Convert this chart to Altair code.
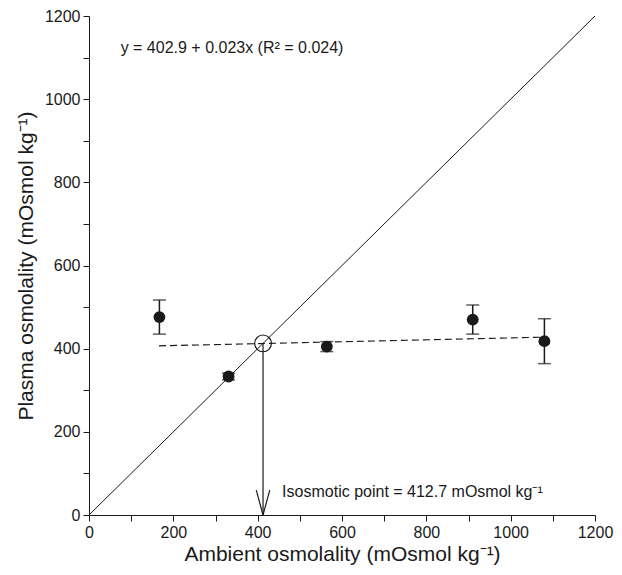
import altair as alt
import pandas as pd

# Data
amb = [167, 331, 564, 910, 1080]
plasma = [476, 333, 405, 470, 418]
err = [41, 8, 12, 35, 54]

reg_x = [166, 1080]
reg_y = [406.7, 427.7]

iso = 412.7
ident = [0, 1200]

eq_text = "y = 402.9 + 0.023x (R² = 0.024)"
iso_text = "Isosmotic point = 412.7 mOsmol kg⁻¹"

FONT = "Liberation Sans"
INK = "#1a1a1a"

pts = pd.DataFrame({"x": amb, "y": plasma, "lo": [p - e for p, e in zip(plasma, err)],
                    "hi": [p + e for p, e in zip(plasma, err)]})

xs = alt.Scale(domain=[0, 1200], nice=False, zero=False)
ys = alt.Scale(domain=[0, 1200], nice=False, zero=False)

ticks = list(range(0, 1201, 100))
lab = "datum.value % 200 == 0 ? datum.label : ''"

xax = alt.Axis(values=ticks, labelExpr=lab, format="d", grid=False, tickSize=6, domainColor=INK,
               tickColor=INK, labelFont=FONT, labelFontSize=16, labelColor=INK, labelPadding=3,
               title="Ambient osmolality (mOsmol kg⁻¹)", titleFont=FONT, titleFontSize=21,
               titleFontWeight="normal", titleColor=INK, titlePadding=3, labelFlush=False)
yax = alt.Axis(values=ticks, labelExpr=lab, format="d", grid=False, tickSize=6, domainColor=INK,
               tickColor=INK, labelFont=FONT, labelFontSize=16, labelColor=INK, labelPadding=3,
               title="Plasma osmolality (mOsmol kg⁻¹)", titleFont=FONT, titleFontSize=21,
               titleFontWeight="normal", titleColor=INK, titlePadding=8, labelFlush=False)

idf = pd.DataFrame({"x": ident, "y": ident})
identity = alt.Chart(idf).mark_line(color=INK, strokeWidth=1).encode(
    x=alt.X("x:Q", scale=xs, axis=xax), y=alt.Y("y:Q", scale=ys, axis=yax))

rdf = pd.DataFrame({"x": reg_x, "y": reg_y})
reg = alt.Chart(rdf).mark_line(color=INK, strokeWidth=1.2, strokeDash=[7, 4]).encode(
    x=alt.X("x:Q", scale=xs), y=alt.Y("y:Q", scale=ys))

bars = alt.Chart(pts).mark_rule(color=INK, strokeWidth=1.5).encode(
    x=alt.X("x:Q", scale=xs), y=alt.Y("lo:Q", scale=ys), y2="hi:Q")
cap_lo = alt.Chart(pts).mark_tick(color=INK, orient="horizontal", size=13, thickness=1.5).encode(
    x=alt.X("x:Q", scale=xs), y=alt.Y("lo:Q", scale=ys))
cap_hi = alt.Chart(pts).mark_tick(color=INK, orient="horizontal", size=13, thickness=1.5).encode(
    x=alt.X("x:Q", scale=xs), y=alt.Y("hi:Q", scale=ys))
dots = alt.Chart(pts).mark_point(filled=True, color=INK, size=140, opacity=1).encode(
    x=alt.X("x:Q", scale=xs), y=alt.Y("y:Q", scale=ys))

adf = pd.DataFrame({"x": [iso], "y": [iso], "y0": [0]})
drop = alt.Chart(adf).mark_rule(color=INK, strokeWidth=1.2).encode(
    x=alt.X("x:Q", scale=xs), y=alt.Y("y:Q", scale=ys), y2="y0:Q")
open_c = alt.Chart(adf).mark_point(shape="circle", filled=False, color=INK, size=280,
                                   strokeWidth=1.2, opacity=1).encode(
    x=alt.X("x:Q", scale=xs), y=alt.Y("y:Q", scale=ys))

hdf = pd.DataFrame({"x": [iso - 16, iso + 16], "y": [60, 60], "x2": [iso, iso], "y2": [0, 0]})
head = alt.Chart(hdf).mark_rule(color=INK, strokeWidth=1.2).encode(
    x=alt.X("x:Q", scale=xs), y=alt.Y("y:Q", scale=ys), x2="x2:Q", y2="y2:Q")

tdf = pd.DataFrame({"x": [75, 458], "y": [1123, 55], "t": [eq_text, iso_text]})
texts = alt.Chart(tdf).mark_text(align="left", baseline="middle", font=FONT, fontSize=16,
                                 color=INK).encode(
    x=alt.X("x:Q", scale=xs), y=alt.Y("y:Q", scale=ys), text="t:N")

chart = alt.layer(identity, reg, drop, head, bars, cap_lo, cap_hi, dots, open_c, texts).properties(
    width=506, height=499,
    autosize=alt.AutoSizeParams(type="none"),
    padding={"left": 81, "top": 8, "right": 19, "bottom": 52},
    background="white",
).configure_view(stroke=None)

chart.save("out.html", embed_options={"renderer": "svg", "actions": False})
